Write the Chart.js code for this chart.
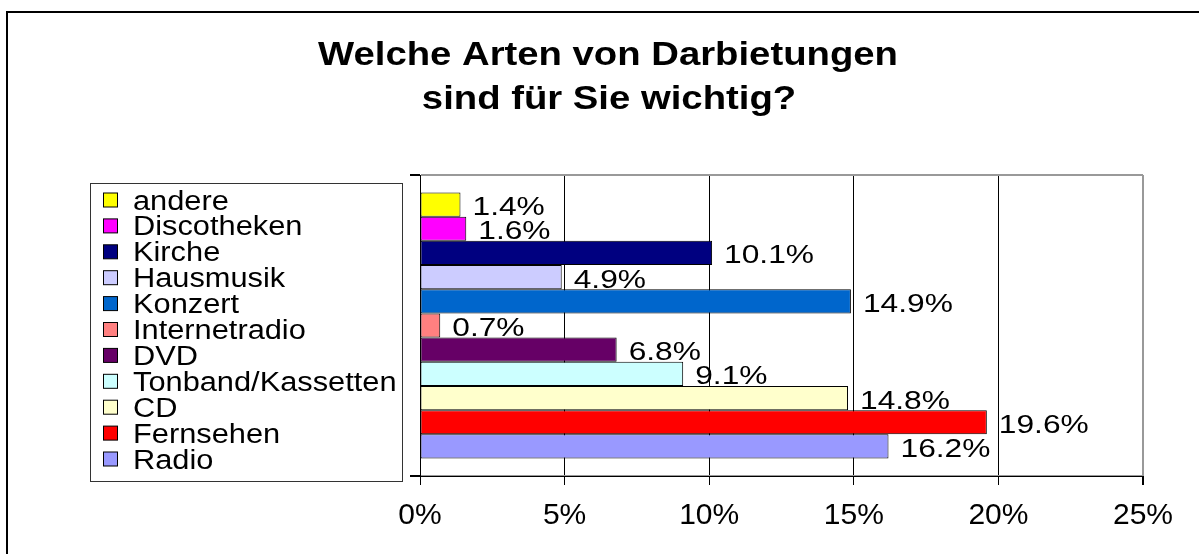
<!DOCTYPE html>
<html><head><meta charset="utf-8">
<script src="https://cdn.jsdelivr.net/npm/chart.js@4/dist/chart.umd.min.js"></script>
<style>html,body{margin:0;padding:0;background:#fff}#wrap{width:1199px;height:554px;position:relative}</style>
</head><body><div id="wrap"><canvas id="c"></canvas></div>
<script>
const titleLines = ['Welche Arten von Darbietungen', 'sind für Sie wichtig?'];
const seriesNames = ['andere','Discotheken','Kirche','Hausmusik','Konzert','Internetradio','DVD','Tonband/Kassetten','CD','Fernsehen','Radio'];
const seriesValues = [1.4, 1.6, 10.1, 4.9, 14.9, 0.7, 6.8, 9.1, 14.8, 19.6, 16.2];
const seriesColors = ['#FFFF00','#FF00FF','#000080','#CCCCFF','#0066CC','#FF8080','#660066','#CCFFFF','#FFFFCC','#FF0000','#9999FF'];
const categoryLabels = [''];
const xMin = 0, xMax = 25, xStep = 5;

const FONT = "'Liberation Sans', Arial, sans-serif";

function sText(ctx, txt, x, y, font, sx, align) {
  ctx.save();
  ctx.font = font;
  ctx.textAlign = align;
  ctx.textBaseline = 'alphabetic';
  ctx.fillStyle = '#000';
  ctx.translate(x, y);
  ctx.scale(sx, 1);
  ctx.fillText(txt, 0, 0);
  ctx.restore();
}

const decor = {
  id: 'decor',
  beforeDraw(chart) {
    const ctx = chart.ctx;
    ctx.save();
    ctx.fillStyle = '#fff';
    ctx.fillRect(0, 0, chart.width, chart.height);
    ctx.strokeStyle = '#000';
    ctx.lineWidth = 2;
    ctx.strokeRect(7, 12, chart.width + 20, chart.height + 20);
    ctx.restore();
  },
  afterDraw(chart) {
    const ctx = chart.ctx;
    // title
    sText(ctx, titleLines[0], 608, 65, "bold 33px " + FONT, 1.16, 'center');
    sText(ctx, titleLines[1], 609, 109, "bold 33px " + FONT, 1.16, 'center');
    // legend box
    ctx.save();
    ctx.strokeStyle = '#333';
    ctx.lineWidth = 1;
    ctx.strokeRect(90.5, 183.5, 312, 298);
    ctx.restore();
    const pitch = 25.9;
    seriesNames.forEach((name, i) => {
      const cy = 200 + i * pitch;
      ctx.save();
      ctx.fillStyle = seriesColors[i];
      ctx.fillRect(103.5, cy - 7, 14, 14);
      ctx.strokeStyle = '#000';
      ctx.lineWidth = 1;
      ctx.strokeRect(103.5, cy - 7, 14, 14);
      ctx.restore();
      sText(ctx, name, 133, cy + 9.5, "27px " + FONT, 1.14, 'left');
    });
    // data labels
    seriesValues.forEach((v, i) => {
      const el = chart.getDatasetMeta(i).data[0];
      sText(ctx, v.toFixed(1) + '%', el.x + 12, el.y + 10.5, "26px " + FONT, 1.22, 'left');
    });
  }
};

new Chart(document.getElementById('c'), {
  type: 'bar',
  data: {
    labels: categoryLabels,
    datasets: seriesNames.map((n, i) => ({
      label: n,
      data: [seriesValues[i]],
      backgroundColor: seriesColors[i],
      borderColor: '#000',
      borderWidth: 1,
      borderSkipped: false,
      categoryPercentage: 0.884,
      barPercentage: 1.0
    }))
  },
  options: {
    indexAxis: 'y',
    responsive: true,
    maintainAspectRatio: false,
    animation: false,
    layout: { padding: { left: 0, right: 56, top: 175, bottom: 0 } },
    plugins: { legend: { display: false }, title: { display: false }, tooltip: { enabled: false } },
    scales: {
      x: {
        type: 'linear', min: xMin, max: xMax,
        ticks: { stepSize: xStep, color: '#000', font: { size: 30, family: FONT }, padding: 13,
                 callback: v => v + '%' },
        grid: {
          color: c => (c.tick && c.tick.value === xMax) ? '#999' : '#000',
          lineWidth: c => (c.tick && c.tick.value === xMax) ? 2 : 1,
          tickColor: '#000', tickLength: 9, drawOnChartArea: true
        },
        border: { color: '#000', width: 1 },
        afterFit: s => { s.height = 78; s.paddingLeft = 0; s.paddingRight = 0; }
      },
      y: {
        type: 'category', offset: true,
        ticks: { display: false },
        grid: { offset: true, color: '#999', lineWidth: 2, tickColor: '#000', tickLength: 10, drawOnChartArea: true },
        border: { color: '#000', width: 1 },
        afterFit: s => { s.width = 420; }
      }
    }
  },
  plugins: [decor]
});
</script></body></html>
